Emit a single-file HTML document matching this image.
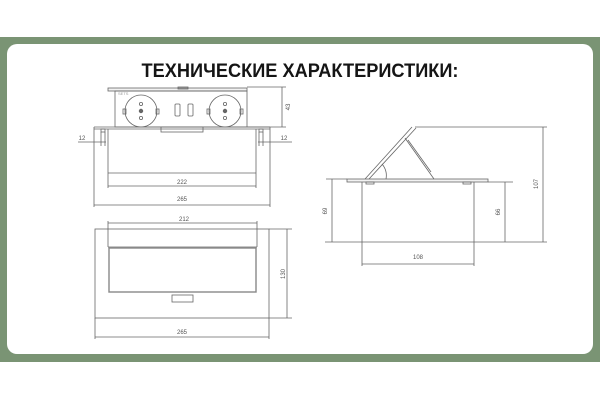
<!DOCTYPE html>
<html><head><meta charset="utf-8"><style>
html,body{margin:0;padding:0;background:#fff;width:600px;height:400px;overflow:hidden}
svg{display:block}
</style></head><body>
<svg width="600" height="400" viewBox="0 0 600 400" xmlns="http://www.w3.org/2000/svg" font-family="Liberation Sans, sans-serif">
<rect x="0" y="37" width="600" height="325" fill="#7a9474"/>
<rect x="7" y="44" width="586" height="310" rx="10" fill="#fff"/>
<text x="300" y="77" text-anchor="middle" font-size="19.5" font-weight="bold" fill="#151515" textLength="317" lengthAdjust="spacingAndGlyphs">ТЕХНИЧЕСКИЕ ХАРАКТЕРИСТИКИ:</text>
<g stroke="#666" stroke-width="0.8" fill="none">
<rect x="108" y="88" width="139" height="3" fill="#f2f2f2"/>
<rect x="178" y="87" width="10" height="2"/>
<rect x="115" y="91" width="132" height="36"/>
<circle cx="141" cy="111" r="16"/>
<circle cx="225" cy="111" r="16"/>
<circle cx="141" cy="111" r="1.8" fill="#666"/><circle cx="141" cy="104" r="1.6"/><circle cx="141" cy="118" r="1.6"/>
<circle cx="225" cy="111" r="1.8" fill="#666"/><circle cx="225" cy="104" r="1.6"/><circle cx="225" cy="118" r="1.6"/>
<rect x="123" y="109" width="3" height="5"/><rect x="156" y="109" width="3" height="5"/>
<rect x="207" y="109" width="3" height="5"/><rect x="240" y="109" width="3" height="5"/>
<rect x="175" y="104" width="5" height="12" rx="1"/><rect x="188" y="104" width="5" height="12" rx="1"/>
<rect x="161" y="127" width="42" height="5"/>
<line x1="94" y1="127" x2="270" y2="127"/>
<line x1="94" y1="129" x2="270" y2="129"/>
<line x1="94" y1="127" x2="94" y2="207"/><line x1="270" y1="127" x2="270" y2="207"/>
<line x1="108" y1="129" x2="108" y2="188"/><line x1="256" y1="129" x2="256" y2="188"/>
<line x1="108" y1="173" x2="256" y2="173"/>
<line x1="108" y1="186" x2="256" y2="186"/>
<line x1="94" y1="205" x2="270" y2="205"/>
<line x1="247" y1="87" x2="286" y2="87"/><line x1="247" y1="127" x2="286" y2="127"/>
<line x1="282" y1="87" x2="282" y2="127"/>
<rect x="101" y="129" width="4" height="3"/><rect x="259" y="129" width="4" height="3"/>
<line x1="78" y1="142" x2="106" y2="142"/><line x1="101" y1="132" x2="101" y2="146"/><line x1="105" y1="132" x2="105" y2="146"/>
<line x1="258" y1="142" x2="292" y2="142"/><line x1="259" y1="132" x2="259" y2="146"/><line x1="263" y1="132" x2="263" y2="146"/>
<rect x="95" y="229" width="174" height="89"/>
<line x1="108" y1="221" x2="108" y2="247"/><line x1="257" y1="221" x2="257" y2="247"/>
<line x1="108" y1="223" x2="257" y2="223"/>
<line x1="108" y1="247" x2="257" y2="247"/>
<rect x="109" y="248" width="147" height="44" stroke-width="1.4" stroke="#888"/>
<rect x="172" y="295" width="21" height="7"/>
<line x1="269" y1="229" x2="292" y2="229"/><line x1="269" y1="318" x2="292" y2="318"/>
<line x1="287" y1="229" x2="287" y2="318"/>
<line x1="95" y1="318" x2="95" y2="339"/><line x1="269" y1="318" x2="269" y2="339"/>
<line x1="95" y1="337" x2="269" y2="337"/>
<rect x="347" y="179" width="141" height="3" fill="#f2f2f2"/>
<rect x="366" y="182" width="8" height="2"/><rect x="463" y="182" width="8" height="2"/>
<line x1="362" y1="182" x2="362" y2="266"/><line x1="474" y1="182" x2="474" y2="266"/>
<line x1="325" y1="242" x2="547" y2="242"/>
<line x1="326" y1="179" x2="347" y2="179"/>
<line x1="488" y1="182" x2="513" y2="182"/>
<line x1="332" y1="179" x2="332" y2="242"/>
<line x1="505" y1="182" x2="505" y2="242"/>
<line x1="362" y1="264" x2="474" y2="264"/>
<line x1="415" y1="127" x2="547" y2="127"/>
<line x1="543" y1="127" x2="543" y2="242"/>
<line x1="365" y1="179" x2="412" y2="127"/>
<line x1="369" y1="179" x2="416" y2="128"/>
<line x1="405" y1="138" x2="434" y2="179"/>
<line x1="408" y1="140" x2="431" y2="172"/>
<path d="M382 164 A 18 18 0 0 1 386 179"/>
</g>
<g font-size="6" fill="#555" text-anchor="middle">
<text x="182" y="184">222</text>
<text x="182" y="201">265</text>
<text x="82" y="140">12</text>
<text x="284" y="140">12</text>
<text x="184" y="221">212</text>
<text x="182" y="334">265</text>
<text x="418" y="259">108</text>
<text transform="translate(290 107) rotate(-90)">43</text>
<text transform="translate(285 274) rotate(-90)">130</text>
<text transform="translate(327 211) rotate(-90)">69</text>
<text transform="translate(500 212) rotate(-90)">66</text>
<text transform="translate(538 184) rotate(-90)">107</text>
</g>
<text x="118" y="95" font-size="4" fill="#999">SETS</text>
</svg>
</body></html>
